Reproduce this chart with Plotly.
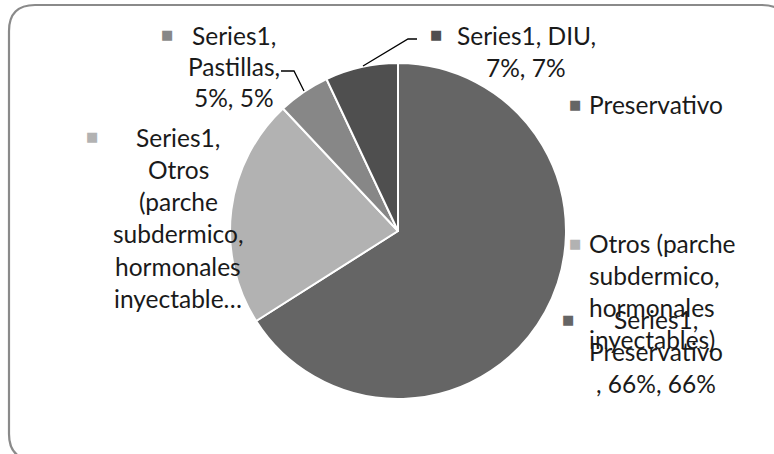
import plotly.graph_objects as go

W, H = 774, 454

categories = ["Preservativo", "Otros (parche subdermico, hormonales inyectables)", "Pastillas", "DIU"]
values = [66, 22, 5, 7]
colors = ["#656565", "#b2b2b2", "#878787", "#4f4f4f"]

# data label lines (text only)
label_lines = {
    "Preservativo": ["Series1,", "Preservativo", ", 66%, 66%"],
    "Otros": ["Series1,", "Otros", "(parche", "subdermico,", "hormonales", "inyectable…"],
    "Pastillas": ["Series1,", "Pastillas,", "5%, 5%"],
    "DIU": ["Series1, DIU,", "7%, 7%"],
}
legend_lines = [["Preservativo"], ["Otros (parche", "subdermico,", "hormonales", "inyectables)"]]

FONT = "Lato"
FS = 24.5
TXT = "#1a1a1a"


def px(x):
    return x / W


def py(y):
    return 1 - y / H


fig = go.Figure()
fig.add_trace(go.Pie(
    labels=categories, values=values, sort=False, direction="clockwise", rotation=0,
    marker=dict(colors=colors, line=dict(color="white", width=2)),
    textinfo="none", hoverinfo="label+percent", showlegend=False,
    domain=dict(x=[px(230), px(566)], y=[py(399), py(63)]),
))

ann = []


def add_text(x, y, t, anchor="center"):
    ann.append(dict(x=px(x), y=py(y), xref="paper", yref="paper", text=t, showarrow=False,
                    xanchor=anchor, yanchor="middle",
                    font=dict(family=FONT, size=FS, color=TXT)))


def add_square(x, y, c):
    ann.append(dict(x=px(x), y=py(y), xref="paper", yref="paper", text="■", showarrow=False,
                    xanchor="center", yanchor="middle",
                    font=dict(family="DejaVu Sans", size=13, color=c)))


# Pastillas label
add_square(167, 34, colors[2])
for i, t in enumerate(label_lines["Pastillas"]):
    add_text(234, 35 + 31 * i, t)
# DIU label
add_square(436, 34, colors[3])
for i, t in enumerate(label_lines["DIU"]):
    add_text(526, 35 + 32 * i, t)
# Otros label
add_square(92, 136, colors[1])
for i, t in enumerate(label_lines["Otros"]):
    add_text(178, 137 + 32.3 * i, t)
# Preservativo label
add_square(568, 319, colors[0])
for i, t in enumerate(label_lines["Preservativo"]):
    add_text(656, 319 + 32 * i, t)

# Legend
add_square(575, 104, colors[0])
add_text(587, 104, legend_lines[0][0], anchor="left")
add_square(575, 243, colors[1])
for i, t in enumerate(legend_lines[1]):
    add_text(587, 243 + 32 * i, t, anchor="left")

shapes = []


def polyline(pts):
    d = "M " + " L ".join(f"{px(x)},{py(y)}" for x, y in pts)
    shapes.append(dict(type="path", path=d, xref="paper", yref="paper",
                       line=dict(color="black", width=1.3)))


polyline([(281, 71), (294, 71), (304, 91)])
polyline([(363, 66), (408, 39), (417, 39)])

# rounded chart border
x0, y0, x1, y1, r = 9, 5, 788, 460, 26
d = (f"M {px(x0 + r)},{py(y0)} L {px(x1 - r)},{py(y0)} Q {px(x1)},{py(y0)} {px(x1)},{py(y0 + r)} "
     f"L {px(x1)},{py(y1 - r)} Q {px(x1)},{py(y1)} {px(x1 - r)},{py(y1)} "
     f"L {px(x0 + r)},{py(y1)} Q {px(x0)},{py(y1)} {px(x0)},{py(y1 - r)} "
     f"L {px(x0)},{py(y0 + r)} Q {px(x0)},{py(y0)} {px(x0 + r)},{py(y0)} Z")
shapes.append(dict(type="path", path=d, xref="paper", yref="paper",
                   line=dict(color="#8a8a8a", width=2.2)))

fig.update_layout(
    width=W, height=H, margin=dict(l=0, r=0, t=0, b=0),
    paper_bgcolor="white", plot_bgcolor="white",
    annotations=ann, shapes=shapes, showlegend=False,
)

fig.write_html("out.html", config={"displayModeBar": False},
               post_script="document.body.style.margin='0';document.body.style.overflow='hidden';")
